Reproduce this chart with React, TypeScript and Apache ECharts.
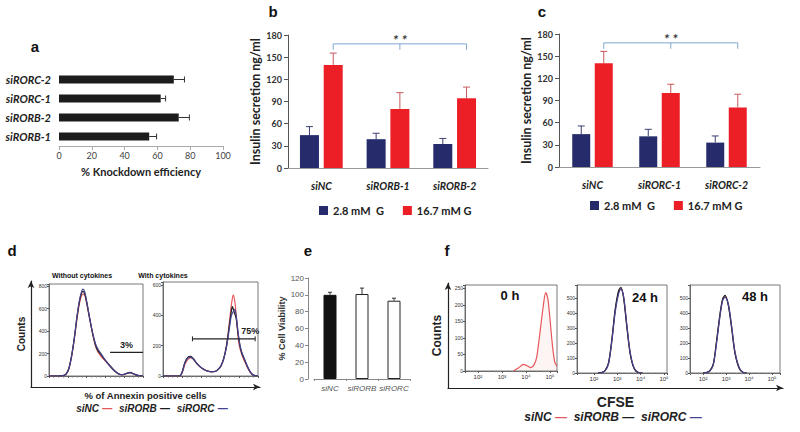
import React, { useEffect, useRef } from 'react';
import * as echarts from 'echarts';

// ---------- data ----------
const knockCats = ['siRORC-2', 'siRORC-1', 'siRORB-2', 'siRORB-1'];
const knockVals = [70, 62, 73, 55];
const knockErr = [6.5, 3, 6.5, 4.5];

const lowName = '2.8 mM  G';
const highName = '16.7 mM G';

const insCatsB = ['siNC', 'siRORB-1', 'siRORB-2'];
const insLowB = [44.5, 39, 32.5];
const insLowErrB = [11.5, 8, 7.5];
const insHighB = [139.5, 80, 94.5];
const insHighErrB = [16, 22, 15];

const insCatsC = ['siNC', 'siRORC-1', 'siRORC-2'];
const insLowC = [44.5, 41.5, 33];
const insLowErrC = [11, 9.5, 9];
const insHighC = [140.5, 100, 80.5];
const insHighErrC = [16, 12, 18];

const sigBracket = [168, 160]; // bracket level and drop (ng/ml)

const viabCats = ['siNC', 'siRORB', 'siRORC'];
const viabVals = [100, 101, 93];
const viabErr = [3, 7, 3];

// panel d: annexin histograms (channel units 0-100, counts)
const dNoCytNC = [[0,0],[10,0],[15,4],[18,15],[21,60],[24,170],[27,330],[30,520],[33,670],[36,730],[38,720],[40,650],[43,520],[46,390],[49,280],[52,215],[55,180],[58,150],[62,115],[66,75],[70,42],[74,18],[78,10],[82,20],[86,28],[90,18],[94,5],[100,0]];
const dNoCytB = [[0,0],[10,0],[15,4],[18,16],[21,65],[24,180],[27,345],[30,540],[33,690],[36,755],[38,735],[40,660],[43,525],[46,395],[49,290],[52,225],[55,195],[58,160],[62,120],[66,80],[70,45],[74,20],[78,12],[82,22],[86,32],[90,20],[94,6],[100,0]];
const dNoCytC = [[0,0],[10,0],[15,3],[18,14],[21,62],[24,175],[27,340],[30,545],[33,700],[36,775],[38,750],[40,670],[43,530],[46,400],[49,300],[52,240],[55,205],[58,165],[62,118],[66,78],[70,44],[74,19],[78,11],[82,21],[86,30],[90,19],[94,5],[100,0]];
const dCytNC = [[0,0],[17,0],[19,8],[21,35],[23,75],[26,108],[29,120],[32,110],[35,85],[39,60],[43,42],[47,32],[51,27],[55,30],[58,42],[61,65],[64,115],[67,210],[70,360],[72,470],[74,535],[76,470],[78,330],[80,210],[83,140],[86,95],[89,55],[92,22],[95,5],[100,0]];
const dCytB = [[0,0],[17,0],[19,10],[21,45],[23,90],[26,122],[29,130],[32,115],[35,88],[39,62],[43,44],[47,33],[51,28],[55,31],[58,44],[61,68],[64,118],[67,205],[70,340],[72,430],[73,458],[75,420],[77,380],[79,280],[81,200],[83,150],[86,105],[89,60],[92,25],[95,6],[100,0]];
const dCytC = [[0,0],[17,0],[19,9],[21,40],[23,85],[26,118],[29,125],[32,112],[35,86],[39,61],[43,43],[47,32],[51,27],[55,30],[58,43],[61,66],[64,114],[67,195],[70,320],[72,400],[74,425],[75.5,440],[77,400],[79,290],[81,205],[83,155],[86,108],[89,62],[92,26],[95,6],[100,0]];
const gateNoCyt = [65, 100, 210];
const gateCyt = [31, 97, 245];

// panel f: CFSE histograms (fluorescence, counts)
const f0hNC = [[3000,0],[5000,10],[7800,20],[11000,16],[16000,10],[22000,20],[28000,43],[38000,115],[52000,195],[66000,237],[80000,220],[93000,180],[128000,73],[160000,25],[194000,15]];
const f24NC = [[150,0],[220,3],[300,15],[425,65],[590,220],[820,420],[1140,540],[1440,568],[1860,510],[2600,310],[3600,130],[5300,30],[8200,2],[12000,0]];
const f24B = [[150,0],[220,4],[300,17],[425,70],[590,228],[820,430],[1140,552],[1440,575],[1860,505],[2600,300],[3600,125],[5300,28],[8200,2],[12000,0]];
const f24C = [[150,0],[220,3],[300,14],[425,62],[590,215],[820,410],[1140,530],[1440,562],[1860,515],[2600,318],[3600,135],[5300,32],[8200,3],[12000,0]];
const f48NC = [[100,0],[145,3],[200,15],[280,58],[390,213],[550,393],[720,493],[910,513],[1250,460],[1770,302],[2460,135],[3800,30],[5600,3],[8000,0]];
const f48B = [[100,0],[145,4],[200,17],[280,62],[390,220],[550,400],[720,500],[910,520],[1250,455],[1770,295],[2460,130],[3800,28],[5600,3],[8000,0]];
const f48C = [[100,0],[145,3],[200,14],[280,55],[390,205],[550,385],[720,488],[910,508],[1250,465],[1770,310],[2460,140],[3800,33],[5600,4],[8000,0]];

// ---------- styling ----------
const CAL = 'Lato, "Open Sans", sans-serif';
const AR = '"Liberation Sans", Arial, sans-serif';
const BLUE = '#252b6b';
const RED = '#ec1f26';
const cNC = '#e4575a';
const cB = '#1d1d1d';
const cC = '#45438f';

const vErr = (offset: number, color: string, cap: number) => (_p: any, api: any) => {
  const c = api.value(0), v = api.value(1), e = api.value(2);
  const p1 = api.coord([c, v]);
  const p2 = api.coord([c, v + e]);
  const x = p1[0] + offset;
  return {
    type: 'group',
    children: [
      { type: 'line', shape: { x1: x, y1: p1[1], x2: x, y2: p2[1] }, style: { stroke: color, lineWidth: 1 } },
      { type: 'line', shape: { x1: x - cap / 2, y1: p2[1], x2: x + cap / 2, y2: p2[1] }, style: { stroke: color, lineWidth: 1 } },
    ],
  };
};

const hErr = (_p: any, api: any) => {
  const c = api.value(0), v = api.value(1), e = api.value(2);
  const p1 = api.coord([v, c]);
  const p2 = api.coord([v + e, c]);
  return {
    type: 'group',
    children: [
      { type: 'line', shape: { x1: p1[0], y1: p1[1], x2: p2[0], y2: p1[1] }, style: { stroke: '#333', lineWidth: 1 } },
      { type: 'line', shape: { x1: p2[0], y1: p1[1] - 3, x2: p2[0], y2: p1[1] + 3 }, style: { stroke: '#333', lineWidth: 1 } },
    ],
  };
};

const bracket = (offset: number) => (_p: any, api: any) => {
  const top = api.value(1), low = api.value(2);
  const a = api.coord([0, top]);
  const m = api.coord([1, top]);
  const b = api.coord([2, top]);
  const lowY = api.coord([0, low])[1];
  const xa = a[0] + offset, xm = m[0] + offset, xb = b[0] + offset;
  const col = '#7fa6cf';
  return {
    type: 'group',
    children: [
      { type: 'polyline', shape: { points: [[xa, lowY], [xa, a[1]], [xb, a[1]], [xb, lowY]] }, style: { stroke: col, fill: null, lineWidth: 1 } },
      { type: 'line', shape: { x1: xm, y1: a[1], x2: xm, y2: lowY }, style: { stroke: col, lineWidth: 1 } },
      { type: 'text', x: xm, y: a[1] + 3, style: { text: '* *', fill: '#333', font: `italic bold 14px ${CAL}`, align: 'center', verticalAlign: 'bottom' } },
    ],
  };
};

const gate = (label: string, anchor: 'center' | 'right', caps: boolean) => (_p: any, api: any) => {
  const x1 = api.value(0), x2 = api.value(1), y = api.value(2);
  const a = api.coord([x1, y]);
  const b = api.coord([x2, y]);
  const children: any[] = [
    { type: 'line', shape: { x1: a[0], y1: a[1], x2: b[0], y2: a[1] }, style: { stroke: '#222', lineWidth: 1.2 } },
  ];
  if (caps) {
    children.push({ type: 'line', shape: { x1: a[0], y1: a[1] - 2.5, x2: a[0], y2: a[1] + 2.5 }, style: { stroke: '#222', lineWidth: 1 } });
    children.push({ type: 'line', shape: { x1: b[0], y1: a[1] - 2.5, x2: b[0], y2: a[1] + 2.5 }, style: { stroke: '#222', lineWidth: 1 } });
  }
  children.push({
    type: 'text',
    x: anchor === 'center' ? (a[0] + b[0]) / 2 : b[0] + 4,
    y: a[1] - 3,
    style: { text: label, fill: '#222', font: `bold 9px ${AR}`, align: anchor, verticalAlign: 'bottom' },
  });
  return { type: 'group', children };
};

const sup: Record<number, string> = { 2: '²', 3: '³', 4: '⁴', 5: '⁵' };
const logLabel = (v: number) => {
  const e = Math.log10(v);
  const r = Math.round(e);
  return Math.abs(e - r) < 1e-6 && sup[r] ? '10' + sup[r] : '';
};

const noSplit = { show: false };

const flowY = (grid: number, max: number, interval: number) => ({
  gridIndex: grid, type: 'value', min: 0, max, interval,
  splitLine: noSplit,
  axisLine: { show: true, lineStyle: { color: '#555', width: 0.8 } },
  axisTick: { show: true, length: 2, lineStyle: { color: '#555' } },
  axisLabel: { fontSize: 5, color: '#333', margin: 2, fontFamily: AR, formatter: (v: number) => (v % interval === 0 ? String(v) : '') },
});
const flowXLin = (grid: number) => ({
  gridIndex: grid, type: 'value', min: 0, max: 100, interval: 20,
  splitLine: noSplit,
  axisLine: { show: true, lineStyle: { color: '#555', width: 0.8 } },
  axisTick: { show: true, length: 2, lineStyle: { color: '#555' } },
  minorTick: { show: true, splitNumber: 4, length: 1.5, lineStyle: { color: '#777' } },
  axisLabel: { show: false },
});
const flowXLog = (grid: number, min: number, max: number) => ({
  gridIndex: grid, type: 'log', logBase: 10, min, max,
  splitLine: noSplit,
  axisLine: { show: true, lineStyle: { color: '#555', width: 0.8 } },
  axisTick: { show: true, length: 2, lineStyle: { color: '#555' } },
  minorTick: { show: true, splitNumber: 5, length: 1.2, lineStyle: { color: '#888' } },
  axisLabel: { fontSize: 6, color: '#333', margin: 3, fontFamily: AR, formatter: logLabel, showMinLabel: false, showMaxLabel: false },
});
const outerAxis = (grid: number, name: string, nameGap: number, fontSize: number, isX: boolean) => ({
  gridIndex: grid, type: 'value', min: 0, max: 1,
  splitLine: noSplit, axisTick: { show: false }, axisLabel: { show: false },
  axisLine: { show: true, symbol: ['none', 'arrow'], symbolSize: [5, 7], lineStyle: { color: '#222', width: 1.2 } },
  name, nameLocation: 'middle', nameGap,
  nameRotate: isX ? 0 : 90,
  nameTextStyle: { fontFamily: AR, fontWeight: 'bold', fontSize, color: '#222' },
});

const line = (name: string, xi: number, data: number[][], color: string, area = false) => ({
  type: 'line', name, xAxisIndex: xi, yAxisIndex: xi, data, showSymbol: false, smooth: 0.3,
  lineStyle: { color, width: 1.2 }, itemStyle: { color },
  areaStyle: area ? { color: 'rgba(236,120,120,0.12)' } : undefined,
  z: 3,
});

const bAxisY = (grid: number) => ({
  gridIndex: grid, type: 'value', min: 0, max: 180, interval: 30,
  splitLine: noSplit,
  axisLine: { show: true, lineStyle: { color: '#555' } },
  axisTick: { show: true, length: 4, lineStyle: { color: '#555' } },
  axisLabel: { fontFamily: CAL, fontWeight: 'bold', fontSize: 9, color: '#333', margin: 6 },
  name: 'Insulin secretion ng/ml', nameLocation: 'middle', nameGap: 25, nameRotate: 90,
  nameTextStyle: { fontFamily: CAL, fontWeight: 'bold', fontSize: 12.5, color: '#222' },
});
const bAxisX = (grid: number, cats: string[]) => ({
  gridIndex: grid, type: 'category', data: cats,
  axisLine: { show: true, lineStyle: { color: '#999' } },
  axisTick: { show: false },
  axisLabel: { fontFamily: CAL, fontWeight: 'bold', fontStyle: 'italic', fontSize: 10.5, color: '#222', margin: 12, interval: 0 },
});

const insSeries = (grid: number, low: number[], lowErr: number[], high: number[], highErr: number[], bw: number) => {
  const gap = 0.25;
  const off = (bw + bw * gap) / 2;
  return [
    { type: 'bar', name: lowName, xAxisIndex: grid, yAxisIndex: grid, data: low, barWidth: bw, barGap: '25%', itemStyle: { color: BLUE } },
    { type: 'bar', name: highName, xAxisIndex: grid, yAxisIndex: grid, data: high, barWidth: bw, barGap: '25%', itemStyle: { color: RED } },
    { type: 'custom', xAxisIndex: grid, yAxisIndex: grid, renderItem: vErr(-off, '#3b3f70', 7), data: low.map((v, i) => [i, v, lowErr[i]]), encode: { x: 0, y: 1 }, z: 4 },
    { type: 'custom', xAxisIndex: grid, yAxisIndex: grid, renderItem: vErr(off, '#c8585c', 7), data: high.map((v, i) => [i, v, highErr[i]]), encode: { x: 0, y: 1 }, z: 4 },
    { type: 'custom', xAxisIndex: grid, yAxisIndex: grid, renderItem: bracket(off), data: [[1, sigBracket[0], sigBracket[1]]], encode: { x: 0, y: 1 }, z: 5 },
  ];
};

const legendFor = (left: number, top: number) => ({
  data: [lowName, highName], left, top, icon: 'rect', itemWidth: 9, itemHeight: 9, itemGap: 19,
  textStyle: { fontFamily: CAL, fontSize: 11, fontWeight: 'bold', color: '#222' },
  selectedMode: false,
});

const panelLabel = (t: string, x: number, y: number) => ({
  type: 'text', x, y,
  style: { text: t, font: `bold 15px ${AR}`, fill: '#111', align: 'center', verticalAlign: 'middle' },
});
const smallText = (t: string, x: number, y: number, font: string) => ({
  type: 'text', x, y,
  style: { text: t, font, fill: '#111', align: 'center', verticalAlign: 'middle' },
});
const sampleLegend = (x: number, y: number, size: number) => ({
  type: 'text', x, y,
  style: {
    text: '{n|siNC} {r|—}  {n|siRORB} {k|—}  {n|siRORC} {b|—}',
    align: 'center', verticalAlign: 'middle',
    rich: {
      n: { font: `italic bold ${size}px ${AR}`, fill: '#222' },
      r: { font: `bold ${size}px ${AR}`, fill: cNC },
      k: { font: `bold ${size}px ${AR}`, fill: cB },
      b: { font: `bold ${size}px ${AR}`, fill: cC },
    },
  },
});

const boxGrid = (left: number, top: number, width: number, height: number) => ({
  left, top, width, height, show: true, borderColor: '#555', borderWidth: 0.8, backgroundColor: 'transparent',
});

const option: any = {
  animation: false,
  backgroundColor: '#ffffff',
  textStyle: { fontFamily: CAL },
  grid: [
    { left: 59, top: 70, width: 164, height: 76 },        // 0 a
    { left: 288, top: 35, width: 200, height: 133 },       // 1 b
    { left: 559, top: 34, width: 201, height: 133 },       // 2 c
    boxGrid(49, 284, 94, 92),                              // 3 d1
    boxGrid(163, 282, 95, 94),                             // 4 d2
    { left: 31, top: 281, width: 229, height: 106 },       // 5 d outer
    { left: 314, top: 278, width: 96, height: 101 },       // 6 e
    boxGrid(465, 285, 92, 86),                             // 7 f1
    boxGrid(577, 285, 90, 88),                             // 8 f2
    boxGrid(690, 285, 90, 88),                             // 9 f3
    { left: 448, top: 283, width: 335, height: 105 },      // 10 f outer
  ],
  xAxis: [
    {
      gridIndex: 0, type: 'value', min: 0, max: 100, interval: 20, splitLine: noSplit,
      axisLine: { show: true, lineStyle: { color: '#aaa' } },
      axisTick: { show: true, length: 4, lineStyle: { color: '#aaa' } },
      axisLabel: { fontFamily: CAL, fontSize: 9, color: '#444', margin: 5 },
      name: '% Knockdown efficiency', nameLocation: 'middle', nameGap: 20,
      nameTextStyle: { fontFamily: CAL, fontWeight: 'bold', fontSize: 11, color: '#222' },
    },
    bAxisX(1, insCatsB),
    bAxisX(2, insCatsC),
    flowXLin(3),
    flowXLin(4),
    outerAxis(5, '% of Annexin positive cells', 3, 9.5, true),
    {
      gridIndex: 6, type: 'category', data: viabCats,
      axisLine: { show: true, lineStyle: { color: '#888' } },
      axisTick: { show: true, length: 2, lineStyle: { color: '#888' } },
      axisLabel: { fontFamily: AR, fontStyle: 'italic', fontSize: 8, color: '#555', margin: 5, interval: 0, hideOverlap: false },
    },
    flowXLog(7, 29, 195000),
    flowXLog(8, 19, 134000),
    flowXLog(9, 27, 223000),
    outerAxis(10, 'CFSE', 7, 14, true),
  ],
  yAxis: [
    {
      gridIndex: 0, type: 'category', data: knockCats, inverse: true,
      axisLine: { show: false }, axisTick: { show: false },
      axisLabel: { fontFamily: CAL, fontWeight: 'bold', fontStyle: 'italic', fontSize: 11, color: '#222', margin: 8 },
    },
    bAxisY(1),
    bAxisY(2),
    flowY(3, 820, 200),
    flowY(4, 620, 200),
    outerAxis(5, 'Counts', 5, 10, false),
    {
      gridIndex: 6, type: 'value', min: 0, max: 120, interval: 20, offset: 6, splitLine: noSplit,
      axisLine: { show: true, lineStyle: { color: '#888' } },
      axisTick: { show: true, length: 3, lineStyle: { color: '#888' } },
      axisLabel: { fontFamily: AR, fontSize: 8, color: '#555', margin: 4 },
      name: '% Cell Viability', nameLocation: 'middle', nameGap: 11, nameRotate: 90,
      nameTextStyle: { fontFamily: AR, fontWeight: 'bold', fontSize: 9, color: '#333' },
    },
    flowY(7, 260, 50),
    flowY(8, 590, 100),
    flowY(9, 590, 100),
    outerAxis(10, 'Counts', 5, 12, false),
  ],
  legend: [legendFor(314, 200), legendFor(585, 195)],
  series: [
    // a
    { type: 'bar', xAxisIndex: 0, yAxisIndex: 0, data: knockVals, barWidth: 8, itemStyle: { color: '#1c1c1c' } },
    { type: 'custom', xAxisIndex: 0, yAxisIndex: 0, renderItem: hErr, data: knockVals.map((v, i) => [i, v, knockErr[i]]), encode: { y: 0, x: 1 }, z: 4 },
    // b, c
    ...insSeries(1, insLowB, insLowErrB, insHighB, insHighErrB, 19),
    ...insSeries(2, insLowC, insLowErrC, insHighC, insHighErrC, 18),
    // d
    line('siNC', 3, dNoCytNC, cNC),
    line('siRORB', 3, dNoCytB, cB),
    line('siRORC', 3, dNoCytC, cC),
    { type: 'custom', xAxisIndex: 3, yAxisIndex: 3, renderItem: gate('3%', 'center', false), data: [gateNoCyt], encode: { x: 0, y: 2 }, z: 6 },
    line('siNC', 4, dCytNC, cNC),
    line('siRORB', 4, dCytB, cB),
    line('siRORC', 4, dCytC, cC),
    { type: 'custom', xAxisIndex: 4, yAxisIndex: 4, renderItem: gate('75%', 'right', true), data: [gateCyt], encode: { x: 0, y: 2 }, z: 6 },
    // e
    {
      type: 'bar', xAxisIndex: 6, yAxisIndex: 6, barWidth: 13,
      data: viabVals.map((v, i) => ({ value: v, itemStyle: i === 0 ? { color: '#111', borderColor: '#111', borderWidth: 1 } : { color: '#fff', borderColor: '#222', borderWidth: 1 } })),
    },
    { type: 'custom', xAxisIndex: 6, yAxisIndex: 6, renderItem: vErr(0, '#333', 4), data: viabVals.map((v, i) => [i, v, viabErr[i]]), encode: { x: 0, y: 1 }, z: 4 },
    // f
    line('siNC', 7, f0hNC, cNC, true),
    line('siNC', 8, f24NC, cNC),
    line('siRORB', 8, f24B, cB),
    line('siRORC', 8, f24C, cC),
    line('siNC', 9, f48NC, cNC),
    line('siRORB', 9, f48B, cB),
    line('siRORC', 9, f48C, cC),
  ],
  graphic: [
    panelLabel('a', 35, 46),
    panelLabel('b', 273, 11),
    panelLabel('c', 542, 11),
    panelLabel('d', 12, 250),
    panelLabel('e', 308, 250),
    panelLabel('f', 447, 250),
    smallText('Without cytokines', 82, 275, `bold 7px ${AR}`),
    smallText('With cytokines', 163, 275, `bold 7px ${AR}`),
    smallText('0 h', 510, 295, `bold 13px ${AR}`),
    smallText('24 h', 645, 297, `bold 13px ${AR}`),
    smallText('48 h', 755, 296, `bold 13px ${AR}`),
    sampleLegend(152, 408, 10),
    sampleLegend(613, 417, 12),
  ],
};

export default function App() {
  const ref = useRef<HTMLDivElement>(null);
  useEffect(() => {
    const chart = echarts.init(ref.current!, null, { renderer: 'svg' });
    chart.setOption(option);
    return () => chart.dispose();
  }, []);
  return (
    <div
      ref={ref}
      style={{ position: 'fixed', left: 0, top: 0, width: 800, height: 432, background: '#fff' }}
    />
  );
}
